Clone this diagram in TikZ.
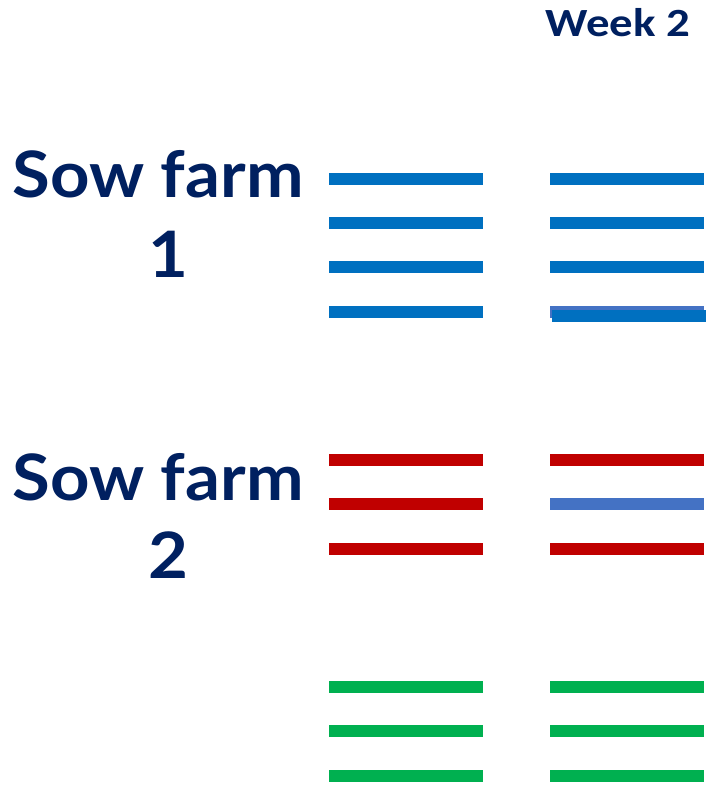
\documentclass[tikz,border=0pt]{standalone}
\usepackage{fontspec}
\newfontfamily\labelfont{Lato}
\newfontfamily\headfont{Carlito}
\definecolor{navy}{HTML}{002060}
\definecolor{barblue}{HTML}{0070C0}
\definecolor{barlight}{HTML}{4472C4}
\definecolor{barred}{HTML}{C00000}
\definecolor{bargreen}{HTML}{00B050}
\begin{document}
\begin{tikzpicture}[x=1pt,y=-1pt,
  bar/.style={line width=12pt,line cap=butt},
  farmlabel/.style={text=navy,font=\labelfont\bfseries\fontsize{64}{64}\selectfont,anchor=base,inner sep=0pt,xscale=1.075},
  weeklabel/.style={text=navy,font=\headfont\bfseries\fontsize{40}{40}\selectfont,anchor=base,inner sep=0pt,xscale=1.17}]
\useasboundingbox (0,0) rectangle (710,789);
\fill[white] (0,0) rectangle (710,789);

% headings and farm labels
\node[weeklabel] (week) at (618,37) {Week 2};
\node[farmlabel] (farmA) at (158,197) {Sow farm};
\node[farmlabel] (farmAn) at (168,277) {1};
\node[farmlabel] (farmB) at (158,500) {Sow farm};
\node[farmlabel] (farmBn) at (168,578) {2};

% sow farm 1 bars
\foreach \y in {178.5,222.5,266.5,311.5}
  \draw[bar,barblue] (329,\y) -- (483,\y);
\foreach \y in {178.5,222.5,266.5}
  \draw[bar,barblue] (550,\y) -- (704,\y);
\draw[bar,barlight] (550,312) -- (704,312);
\draw[bar,barblue] (552,316) -- (706,316);

% sow farm 2 bars
\foreach \y in {459.5,503.5,548.5}
  \draw[bar,barred] (329,\y) -- (483,\y);
\draw[bar,barred] (550,459.5) -- (704,459.5);
\draw[bar,barlight] (550,503.5) -- (704,503.5);
\draw[bar,barred] (550,548.5) -- (704,548.5);

% third group bars
\foreach \y in {686.5,730.5,775.5}{
  \draw[bar,bargreen] (329,\y) -- (483,\y);
  \draw[bar,bargreen] (550,\y) -- (704,\y);
}
\end{tikzpicture}
\end{document}
